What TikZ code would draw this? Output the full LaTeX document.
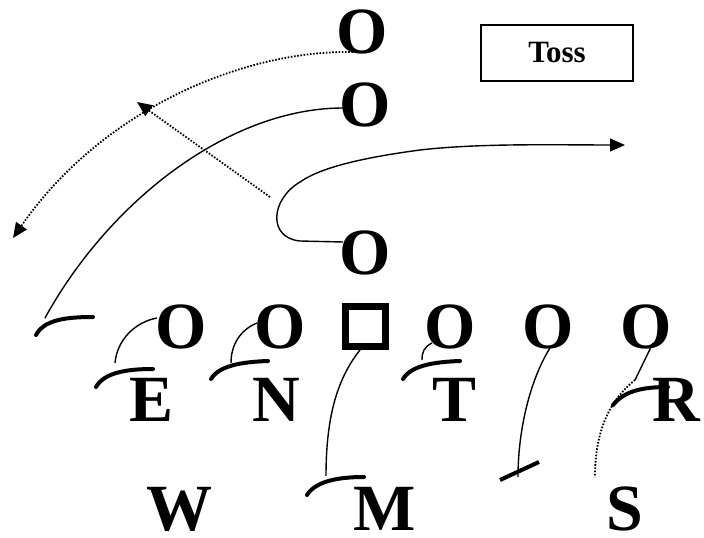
\documentclass[tikz,border=0pt]{standalone}
\usepackage{fontspec}
\setmainfont{Liberation Serif}
\usetikzlibrary{arrows.meta,calc}
\begin{document}
\begin{tikzpicture}[x=1pt,y=-1pt,
  player/.style={inner sep=0pt,font=\fontsize{66}{66}\selectfont\bfseries},
  route/.style={line width=1.4pt},
  dotroute/.style={line width=1.8pt,dash pattern=on 1.6pt off 1.6pt},
  block/.style={line width=4pt,line cap=round},
  tip/.style={-{Triangle[length=15pt,width=13pt]}}]
\useasboundingbox (0,0) rectangle (704,538);

% call box
\node[draw,line width=1.3pt,minimum width=152pt,minimum height=56pt,
  font=\fontsize{31}{31}\selectfont\bfseries] (call) at (557,53) {Toss};

% backfield and defenders
\node[player] (d1) at (362,32) {O};
\node[player] (d2) at (365,105) {O};
\node[player] (d3) at (365,253) {O};

% front line
\node[player] (l1) at (181,327) {O};
\node[player] (l2) at (280,327) {O};
\node[draw,line width=7pt,minimum size=40pt,inner sep=0pt] (ctr) at (365,326) {};
\node[player] (l3) at (450,327) {O};
\node[player] (l4) at (548,327) {O};
\node[player] (l5) at (646,327) {O};

\node[player] (E) at (152,400) {E};
\node[player] (N) at (276,400) {N};
\node[player] (T) at (455,400) {T};
\node[player] (R) at (676,400) {R};
\node[player] (W) at (179,509) {W};
\node[player] (M) at (385,509) {M};
\node[player] (S) at (625,509) {S};

% free ends of the routes
\coordinate (deep) at (13,238);
\coordinate (flat) at (137,102);
\coordinate (flatstart) at (270,197);
\coordinate (sweep) at (625,145);
\coordinate (edge) at (45,318);

% routes
\draw[dotroute,tip] ($(d1)+(-9,20)$) .. controls (240,50) and (100,112) .. (deep);
\draw[dotroute,tip] (flatstart) -- (flat);
\draw[route] ($(d2)+(-22,3)$) .. controls (230,108) and (110,200) .. (edge);
\draw[route,tip] ($(d3)+(-22,-11)$) -- (300,241)
  .. controls (268,238) and (270,200) .. (300,182)
  .. controls (320,168) and (360,158) .. (420,150)
  .. controls (480,143) and (560,145) .. (sweep);

% blocks
\draw[block] (36,335) .. controls (44,320) and (65,317) .. (93,317);

\draw[route] ($(l1)+(-24,-9)$) .. controls (135,322) and (117,340) .. (115,363);
\draw[block] (96,387) .. controls (104,373) and (125,369) .. (153,369);

\draw[route] ($(l2)+(-23,-4)$) .. controls (240,330) and (231,345) .. (231,363);
\draw[block] (211,379) .. controls (219,366) and (240,362) .. (268,361);

\draw[route] ($(ctr)+(-5,24)$) .. controls (336,380) and (326,420) .. (326,476);
\draw[block] (307,495) .. controls (315,482) and (336,477) .. (364,477);

\draw[route] ($(l3)+(-18,16)$) .. controls (424,347) and (422,352) .. (422,360);
\draw[block] (403,379) .. controls (411,366) and (432,362) .. (460,361);

\draw[route] ($(l4)+(2,21)$) .. controls (530,380) and (518,430) .. (518,477);
\draw[block,line cap=butt] (500,480) -- (539,462);

\draw[route] ($(l5)+(7,16)$) -- (635,380);
\draw[dotroute] (635,380) .. controls (610,400) and (595,430) .. (595,477);
\draw[block] (613,405) .. controls (625,390) and (645,387) .. (668,387);
\end{tikzpicture}
\end{document}
